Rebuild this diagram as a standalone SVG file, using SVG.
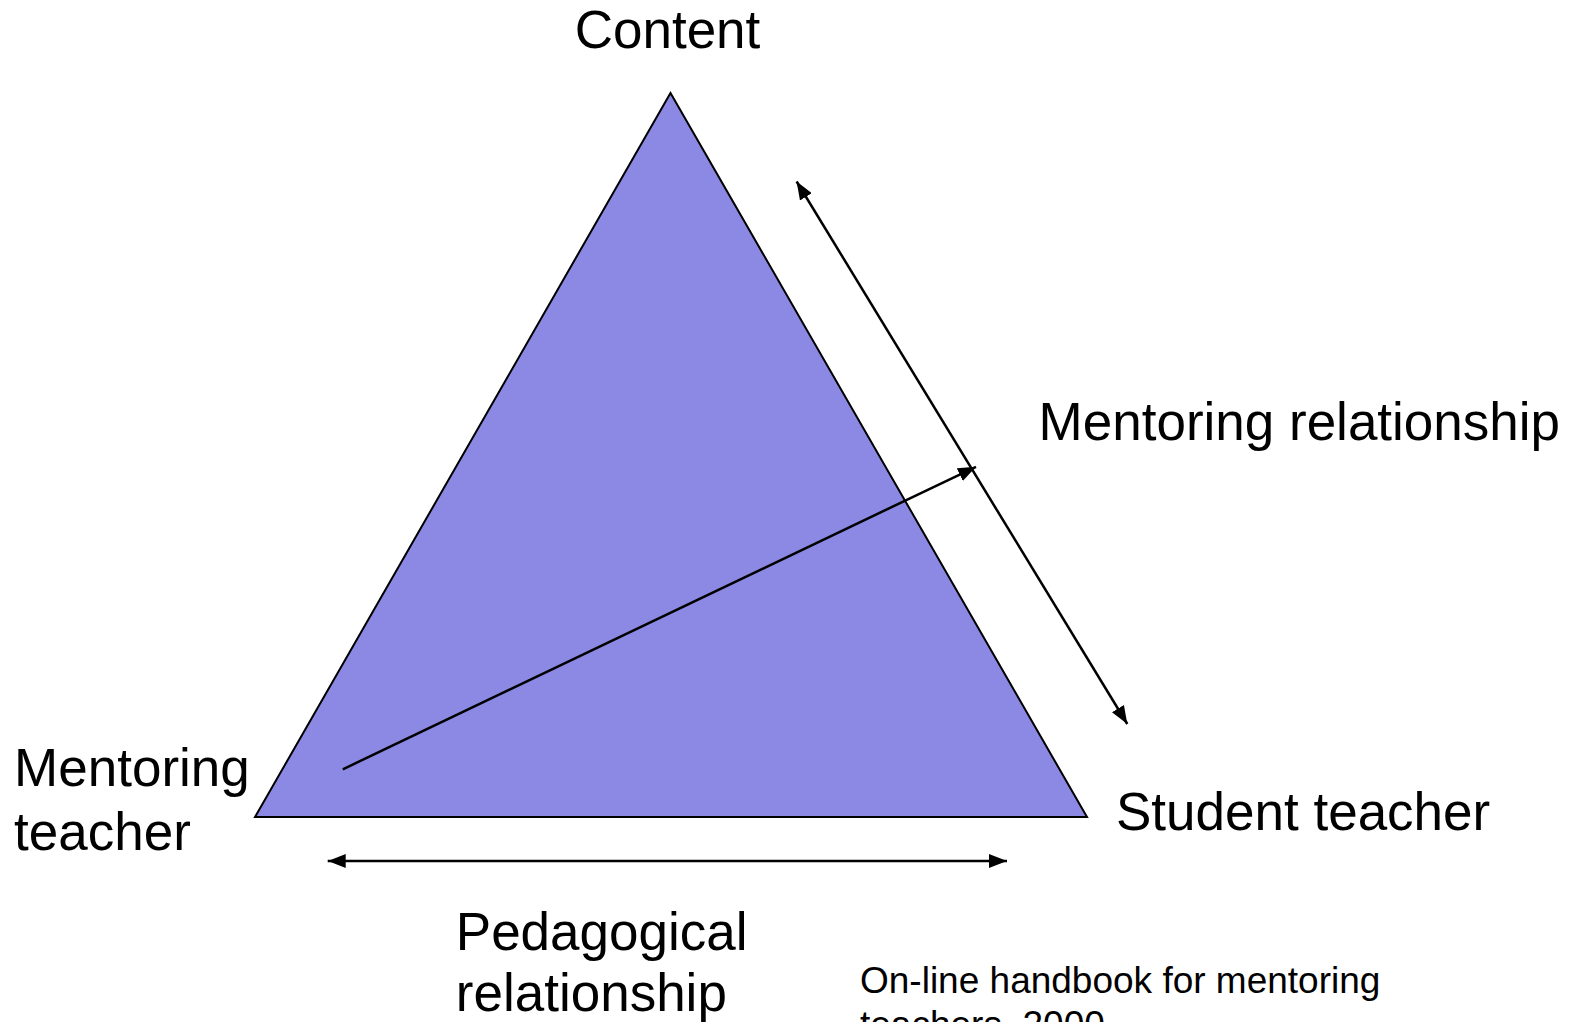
<svg xmlns="http://www.w3.org/2000/svg" width="1581" height="1022" viewBox="0 0 1581 1022">
<defs>
<style>
.t{font-family:"Liberation Sans",Arial,sans-serif;font-size:53px;fill:#000}
.s{font-family:"Liberation Sans",Arial,sans-serif;font-size:37px;fill:#000}
.c{stroke:#000;stroke-width:2.5;fill:none}
</style>
<marker id="ae" viewBox="0 0 18 14" refX="18" refY="7" markerWidth="18" markerHeight="14" markerUnits="userSpaceOnUse" orient="auto"><path d="M0,0L18,7L0,14z" fill="#000"/></marker>
<marker id="as" viewBox="0 0 18 14" refX="0" refY="7" markerWidth="18" markerHeight="14" markerUnits="userSpaceOnUse" orient="auto"><path d="M18,0L0,7L18,14z" fill="#000"/></marker>
</defs>
<rect width="1581" height="1022" fill="#fff"/>
<g id="triangle"><polygon points="670.5,93 255,817 1087,817" fill="#8b89e3" stroke="#000" stroke-width="2"/></g>
<g id="connectors">
<line class="c" x1="796.6" y1="181.5" x2="1127.3" y2="724" marker-start="url(#as)" marker-end="url(#ae)"/>
<line class="c" x1="342.8" y1="769.3" x2="976" y2="466.8" marker-end="url(#ae)"/>
<line class="c" x1="327.7" y1="861" x2="1007" y2="861" marker-start="url(#as)" marker-end="url(#ae)"/>
</g>
<g id="content"><text class="t" x="574.7" y="48.4">Content</text></g>
<g id="mentoring-relationship"><text class="t" x="1038.6" y="439.7">Mentoring relationship</text></g>
<g id="mentoring-teacher"><text class="t" x="14.1" y="786">Mentoring</text><text class="t" x="14.1" y="849.5">teacher</text></g>
<g id="student-teacher"><text class="t" x="1116" y="830">Student teacher</text></g>
<g id="pedagogical-relationship"><text class="t" x="455.8" y="950">Pedagogical</text><text class="t" x="455.8" y="1011">relationship</text></g>
<g id="citation"><text class="s" x="860" y="993">On-line handbook for mentoring</text><text class="s" x="860" y="1037">teachers, 2000</text></g>
</svg>
